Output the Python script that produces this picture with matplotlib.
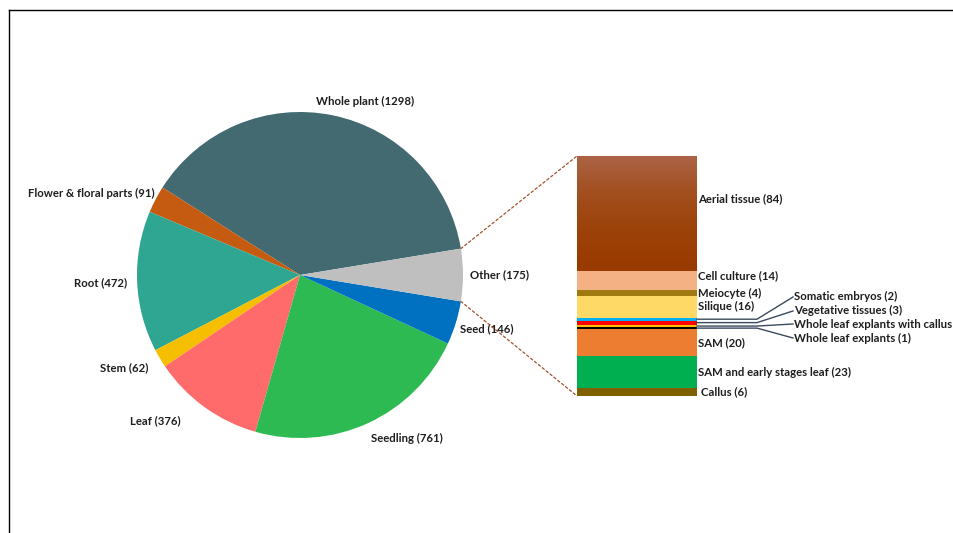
import matplotlib.pyplot as plt
import numpy as np
from matplotlib.patches import ConnectionPatch
from matplotlib.colors import LinearSegmentedColormap

plt.rcParams['font.family'] = ['Lato', 'DejaVu Sans']

# pie data (counter-clockwise from "Whole plant")
pie_labels = ["Whole plant", "Flower & floral parts", "Root", "Stem", "Leaf",
              "Seedling", "Seed", "Other"]
pie_values = [1298, 91, 472, 62, 376, 761, 146, 175]
pie_colors = ["#436A70", "#C55A11", "#2EA692", "#F5BF00", "#FF6B6B",
              "#2EBA52", "#0070C0", "#BFBFBF"]

# breakdown of "Other" (bottom to top)
bar_labels = ["Callus", "SAM and early stages leaf", "SAM", "Whole leaf explants",
              "Whole leaf explants with callus", "Vegetative tissues",
              "Somatic embryos", "Silique", "Meiocyte", "Cell culture", "Aerial tissue"]
bar_values = [6, 23, 20, 1, 2, 3, 2, 16, 4, 14, 84]
bar_colors = ["#7F6000", "#00B050", "#ED7D31", "#000000", "#FFC000", "#FF0000",
              "#00B0F0", "#FFD966", "#A07A10", "#F4B183", "#9E4410"]

fig = plt.figure(figsize=(9.54, 5.33), dpi=100)
W, H = 954, 533
FS = 8.2

# --- pie (axes in pixel units, y up)
ax = fig.add_axes([0, 0, 1, 1])
cx, cy, r = 300, H - 275, 163
start = 360 * pie_values[-1] / sum(pie_values) / 2
ax.pie(pie_values, colors=pie_colors, startangle=start, counterclock=True,
       center=(cx, cy), radius=r, frame=True,
       wedgeprops=dict(linewidth=0))
ax.set_xlim(0, W); ax.set_ylim(0, H); ax.set_aspect("auto"); ax.axis("off")

label_pos = [(365, 101), (91, 193), (101, 283), (124, 368), (155, 421),
             (407, 438), (487, 329), (500, 275)]
for lab, v, (x, y) in zip(pie_labels, pie_values, label_pos):
    ax.text(x, H - y, f"{lab} ({v})", ha="center", va="center",
            fontsize=FS, fontweight="bold", color="#1E1E1E")

# --- stacked bar
bx0, by0, bw, bh = 577, 396, 120, 240
axb = fig.add_axes([bx0 / W, (H - by0) / H, bw / W, bh / H])
bottoms = np.concatenate([[0], np.cumsum(bar_values)[:-1]])
bars = axb.bar(0.5, bar_values, bottom=bottoms, width=1, color=bar_colors, linewidth=0)
axb.set_xlim(0, 1); axb.set_ylim(0, sum(bar_values)); axb.axis("off")

# gradient on the aerial tissue segment
top = bars[-1]
grad = LinearSegmentedColormap.from_list("g", ["#993A00", "#9C4208", "#A24E1E", "#AC6446"])
im = axb.imshow(np.linspace(0, 1, 100).reshape(-1, 1), cmap=grad, aspect="auto",
                origin="lower", zorder=3,
                extent=[0, 1, bottoms[-1], bottoms[-1] + bar_values[-1]])
im.set_clip_path(top)
axb.set_xlim(0, 1); axb.set_ylim(0, sum(bar_values))

# label heights (in bar units) where they differ from the segment centre
label_y = {"Aerial tissue": 143.6, "Cell culture": 87.5,
           "Whole leaf explants": 42.3, "Whole leaf explants with callus": 52.5,
           "Vegetative tissues": 62.0, "Somatic embryos": 72.2}
leader = {"Whole leaf explants", "Whole leaf explants with callus",
          "Vegetative tissues", "Somatic embryos"}
for lab, v, b in zip(bar_labels, bar_values, bottoms):
    mid = b + v / 2
    ly = label_y.get(lab, mid)
    if lab in leader:
        axb.plot([1.0, 1.5, 1.8], [mid, mid, ly], color="#3B4A5E", lw=1.0,
                 clip_on=False)
        x = 1.81
    else:
        x = 1.03 if lab == "Callus" else 1.008
    axb.text(x, ly, f"{lab} ({v})", ha="left", va="center", fontsize=FS,
             fontweight="bold", color="#1E1E1E", clip_on=False)

# connectors from the "Other" wedge to the bar
tot = sum(bar_values)
for ang, yb in [(start, tot), (-start, 0)]:
    p = (cx + r * np.cos(np.radians(ang)), cy + r * np.sin(np.radians(ang)))
    con = ConnectionPatch(xyA=p, coordsA=ax.transData, xyB=(0, yb),
                          coordsB=axb.transData, color="#A0522D", lw=0.9,
                          linestyle=(0, (2, 2)))
    fig.add_artist(con)

# outer frame (partially visible)
fig.add_artist(plt.Line2D([9.5 / W, 9.5 / W], [0, 1 - 10 / H], color="black", lw=1))
fig.add_artist(plt.Line2D([9.5 / W, 1], [1 - 10 / H, 1 - 10 / H], color="black", lw=1))

fig.savefig("out.png", dpi=100, facecolor="white")
